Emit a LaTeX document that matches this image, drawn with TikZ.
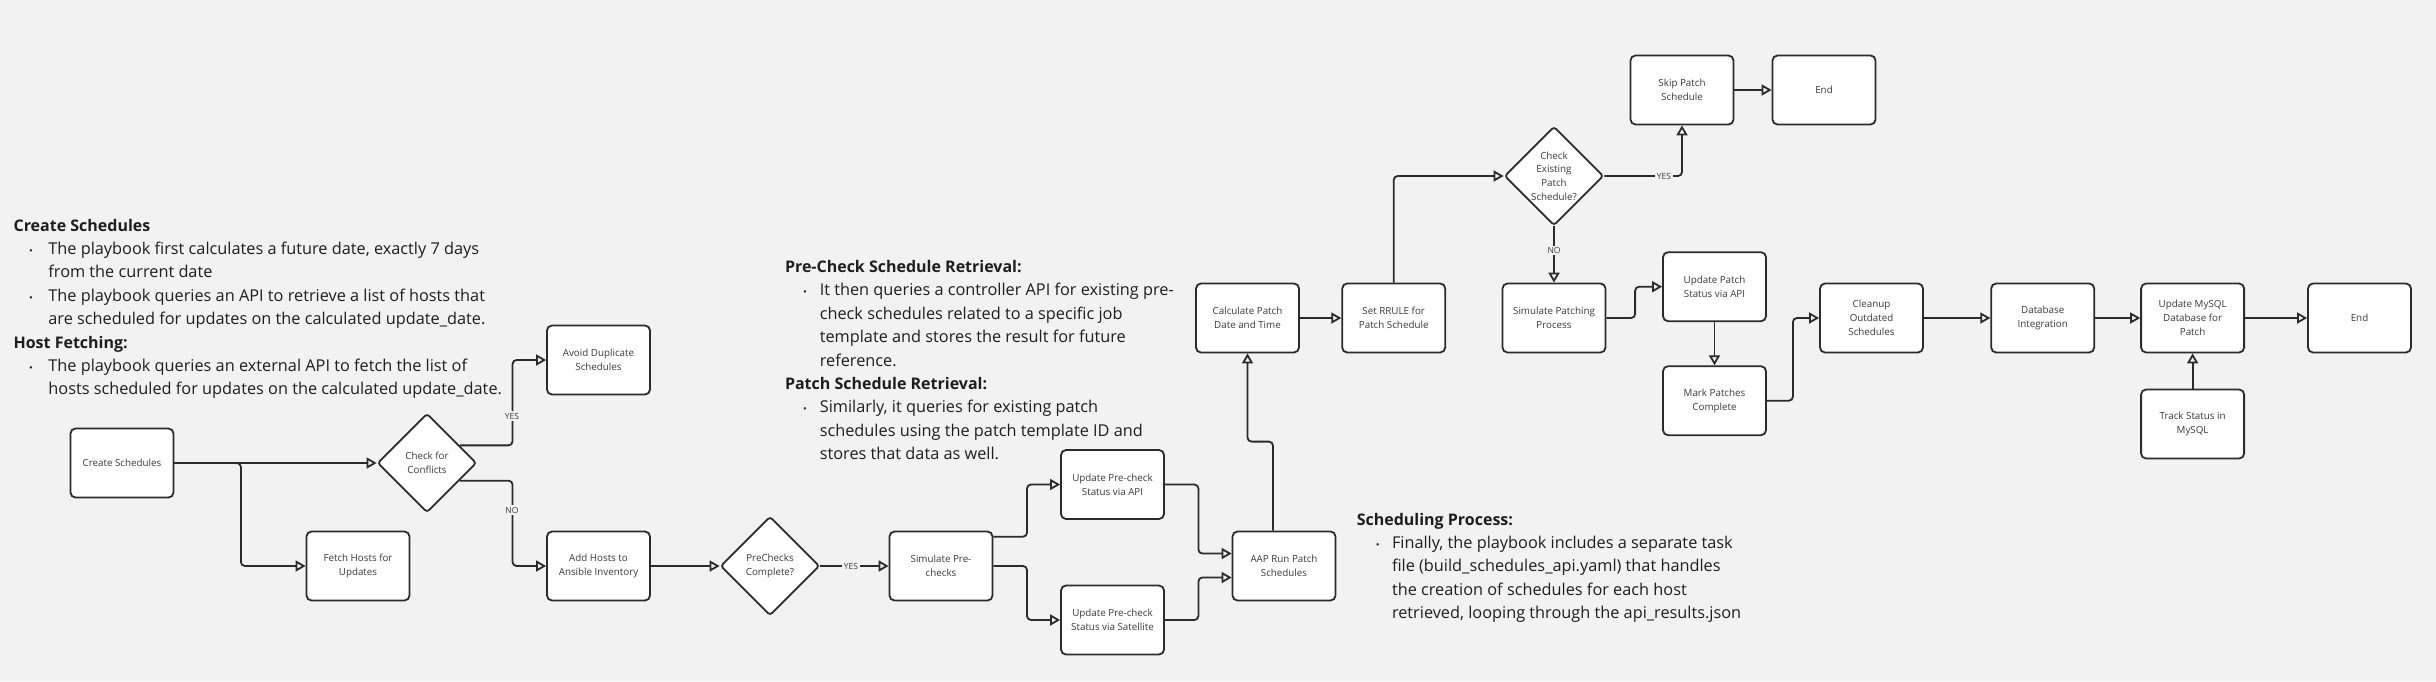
\documentclass[tikz,border=0pt]{standalone}
\usepackage{fontspec}
\setmainfont{Open Sans}
\usetikzlibrary{arrows.meta,shapes.geometric,calc}
\definecolor{bg}{HTML}{F2F2F2}
\definecolor{ln}{HTML}{2B2B2B}
\definecolor{tx}{HTML}{1E1E1E}
\definecolor{bx}{HTML}{3A3A3A}
\begin{document}
\begin{tikzpicture}[x=1pt,y=-1pt,
  box/.style={draw=ln, fill=white, line width=1.8pt, rounded corners=5pt, minimum width=103pt, minimum height=69pt, inner sep=2pt, align=center, font=\fontsize{9.8}{13.7}\selectfont, text=bx},
  dia/.style={diamond, draw=ln, fill=white, line width=1.8pt, rounded corners=3pt, minimum width=99pt, minimum height=99pt, inner sep=0pt, align=center, font=\fontsize{9.8}{13.7}\selectfont, text=bx},
  conn/.style={draw=ln, line width=1.8pt, rounded corners=4pt, -{Triangle[open,length=10pt,width=11pt]}},
  lab/.style={fill=bg, inner sep=1.5pt, font=\fontsize{8.5}{10}\selectfont, text=bx},
  hd/.style={anchor=base west, inner sep=0pt, font=\bfseries\fontsize{16}{20}\selectfont, text=tx},
  bl/.style={anchor=base west, inner sep=0pt, font=\fontsize{16.3}{20}\selectfont, text=tx},
  dot/.style={anchor=base, inner sep=0pt, font=\fontsize{10}{12}\selectfont, text=tx},
]
\useasboundingbox (0,0) rectangle (2436,681);
\fill[bg] (0,0) rectangle (2436,681);

% ---- text block 1
\node[hd] (h1) at (13.4,231) {Create Schedules};
\node[dot] (d1) at (31,254.4) {•};
\node[bl] (l1) at (48.2,254.4) {The playbook first calculates a future date, exactly 7 days};
\node[bl] (l2) at (48.2,277.8) {from the current date};
\node[dot] (d2) at (31,301.2) {•};
\node[bl] (l3) at (48.2,301.2) {The playbook queries an API to retrieve a list of hosts that};
\node[bl] (l4) at (48.2,324.6) {are scheduled for updates on the calculated update\_date.};
\node[hd] (h2) at (13.4,348) {Host Fetching:};
\node[dot] (d3) at (31,371.4) {•};
\node[bl] (l5) at (48.2,371.4) {The playbook queries an external API to fetch the list of};
\node[bl] (l6) at (48.2,394.8) {hosts scheduled for updates on the calculated update\_date.};

% ---- text block 2
\node[hd] (h3) at (784.8,272.5) {Pre-Check Schedule Retrieval:};
\node[dot] (d4) at (805,295.9) {•};
\node[bl] (m1) at (819.6,295.9) {It then queries a controller API for existing pre-};
\node[bl] (m2) at (819.6,319.3) {check schedules related to a specific job};
\node[bl] (m3) at (819.6,342.7) {template and stores the result for future};
\node[bl] (m4) at (819.6,366.1) {reference.};
\node[hd] (h4) at (784.8,389.5) {Patch Schedule Retrieval:};
\node[dot] (d5) at (805,412.9) {•};
\node[bl] (m5) at (819.6,412.9) {Similarly, it queries for existing patch};
\node[bl] (m6) at (819.6,436.3) {schedules using the patch template ID and};
\node[bl] (m7) at (819.6,459.7) {stores that data as well.};

% ---- text block 3
\node[hd] (h5) at (1356.6,525) {Scheduling Process:};
\node[dot] (d6) at (1377.7,548.4) {•};
\node[bl] (s1) at (1391.8,548.4) {Finally, the playbook includes a separate task};
\node[bl] (s2) at (1391.8,571.8) {file (build\_schedules\_api.yaml) that handles};
\node[bl] (s3) at (1391.8,595.2) {the creation of schedules for each host};
\node[bl] (s4) at (1391.8,618.6) {retrieved, looping through the api\_results.json};

% ---- nodes
\node[box] (cs) at (122,463) {Create Schedules};
\node[dia] (cc) at (427,463) {Check for\\Conflicts};
\node[box] (ad) at (598.5,360) {Avoid Duplicate\\Schedules};
\node[box] (fh) at (358,566) {Fetch Hosts for\\Updates};
\node[box] (ah) at (598.5,566) {Add Hosts to\\Ansible Inventory};
\node[dia] (pc) at (770,566) {PreChecks\\Complete?};
\node[box] (sp) at (941,566) {Simulate Pre-\\checks};
\node[box] (ua) at (1112.5,484.5) {Update Pre-check\\Status via API};
\node[box] (us) at (1112.5,620) {Update Pre-check\\Status via Satellite};
\node[box] (ar) at (1284,566) {AAP Run Patch\\Schedules};
\node[box] (cp) at (1247.5,318) {Calculate Patch\\Date and Time};
\node[box] (sr) at (1393.7,318) {Set RRULE for\\Patch Schedule};
\node[dia] (ce) at (1554,176) {Check\\Existing\\Patch\\Schedule?};
\node[box] (sk) at (1682,90) {Skip Patch\\Schedule};
\node[box] (e1) at (1824,90) {End};
\node[box] (spp) at (1554,318) {Simulate Patching\\Process};
\node[box] (up) at (1714.5,286.7) {Update Patch\\Status via API};
\node[box] (mp) at (1714.5,400.7) {Mark Patches\\Complete};
\node[box] (co) at (1871.5,318) {Cleanup\\Outdated\\Schedules};
\node[box] (di) at (2042.7,318) {Database\\Integration};
\node[box] (um) at (2192.6,318) {Update MySQL\\Database for\\Patch};
\node[box] (e2) at (2359.5,318) {End};
\node[box] (ts) at (2192.6,424) {Track Status in\\MySQL};

% ---- connectors
\draw[conn] (cs.east) -- (cc.west);
\draw[conn] (cs.east) -- ++(66.5,0) |- (fh.west);
\draw[conn] ($(cc.east)!0.35!(cc.north)$) -- ++(52.8,0) |- (ad.west);
\draw[conn] ($(cc.east)!0.35!(cc.south)$) -- ++(52.8,0) |- (ah.west);
\draw[conn] (ah.east) -- (pc.west);
\draw[conn] (pc.east) -- (sp.west);
\draw[conn] ($(sp.east)+(0,-29.3)$) -- ++(33.6,0) |- (ua.west);
\draw[conn] (sp.east) -- ++(33.6,0) |- (us.west);
\draw[conn] (ua.east) -- ++(33.5,0) |- ($(ar.west)+(0,-12.5)$);
\draw[conn] (us.east) -- ++(33.5,0) |- ($(ar.west)+(0,11.5)$);
\draw[conn] ($(ar.north)+(-11,0)$) -- ++(0,-89) -| (cp.south);
\draw[conn] (cp.east) -- (sr.west);
\draw[conn] (sr.north) |- (ce.west);
\draw[conn] (ce.east) -| (sk.south);
\draw[conn] (sk.east) -- (e1.west);
\draw[conn] (ce.south) -- (spp.north);
\draw[conn] (spp.east) -- ++(28.7,0) |- (up.west);
\draw[conn] (up.south) -- (mp.north);
\draw[conn] (mp.east) -- ++(26,0) |- (co.west);
\draw[conn] (co.east) -- (di.west);
\draw[conn] (di.east) -- (um.west);
\draw[conn] (um.east) -- (e2.west);
\draw[conn] (ts.north) -- (um.south);

% ---- labels
\node[lab] (y1) at (512,416) {YES};
\node[lab] (n1) at (512,510) {NO};
\node[lab] (y2) at (851,566) {YES};
\node[lab] (y3) at (1664,176) {YES};
\node[lab] (n2) at (1554,250.7) {NO};
\end{tikzpicture}
\end{document}
